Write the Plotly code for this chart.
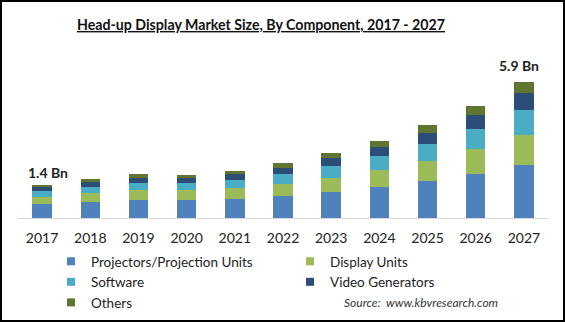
import plotly.graph_objects as go

years = ["2017", "2018", "2019", "2020", "2021", "2022", "2023", "2024", "2025", "2026", "2027"]
projectors = [0.62, 0.71, 0.78, 0.78, 0.84, 0.97, 1.14, 1.36, 1.59, 1.90, 2.30]
display_units = [0.29, 0.39, 0.43, 0.43, 0.48, 0.52, 0.61, 0.74, 0.87, 1.08, 1.31]
software = [0.26, 0.26, 0.32, 0.33, 0.35, 0.43, 0.52, 0.61, 0.74, 0.87, 1.07]
video_generators = [0.19, 0.22, 0.20, 0.20, 0.25, 0.26, 0.35, 0.38, 0.48, 0.61, 0.75]
others = [0.07, 0.12, 0.17, 0.12, 0.14, 0.19, 0.22, 0.27, 0.35, 0.39, 0.46]
series_names = ["Projectors/Projection Units", "Display Units", "Software", "Video Generators", "Others"]
label_2017 = "1.4 Bn"
label_2027 = "5.9 Bn"

series = [projectors, display_units, software, video_generators, others]
colors = ["#4f81bd", "#9bbb59", "#4bacc6", "#2c4d75", "#5f7530"]

W, H = 565, 322
ML, MR, MT, MB = 18, 17, 40, 104
PW, PH = W - ML - MR, H - MT - MB
PX_PER_BN = 23.05

FONT = "Lato"

fig = go.Figure()
for name, vals, col in zip(series_names, series, colors):
    fig.add_trace(go.Bar(x=years, y=vals, name=name, marker=dict(color=col, line=dict(width=0)),
                         showlegend=False))
for name, col in zip(series_names, colors):
    fig.add_trace(go.Scatter(x=[years[0]], y=[None], mode="markers", name=name,
                             marker=dict(symbol="square", size=8, color=col), hoverinfo="skip"))

totals = [sum(v) for v in zip(*series)]

def px_x(px):
    return (px - ML) / PW

def px_y(py):
    return (H - MB - py) / PH

annotations = [
    dict(x=0, y=totals[0], xref="x", yref="y", text="<b>%s</b>" % label_2017, showarrow=False,
         yshift=13, xshift=6, yanchor="middle", font=dict(family=FONT, size=14, color="#222222")),
    dict(x=len(years) - 1, y=totals[-1], xref="x", yref="y", text="<b>%s</b>" % label_2027, showarrow=False,
         yshift=17, xshift=-5, yanchor="middle", font=dict(family=FONT, size=14, color="#222222")),
    dict(x=px_x(500), y=px_y(302), xref="paper", yref="paper", text="<i>Source:  www.kbvresearch.com</i>",
         showarrow=False, xanchor="right", yanchor="middle", font=dict(family=FONT, size=12, color="#333333")),
]

fig.update_layout(
    width=W, height=H,
    margin=dict(l=ML, r=MR, t=MT, b=MB, autoexpand=False),
    paper_bgcolor="white", plot_bgcolor="white",
    barmode="stack", bargap=0.595,
    title=dict(text="<b>Head-up Display Market Size, By Component, 2017 - 2027</b>",
               x=261 / W, y=1 - 25 / H, xref="container", yref="container",
               xanchor="center", yanchor="middle",
               font=dict(family=FONT, size=14.2, color="#111111", lineposition="under")),
    xaxis=dict(type="category", range=[-0.5, len(years) - 0.5], showgrid=False, showline=True,
               linecolor="#d9d9d9", linewidth=1, automargin=False,
               ticks="outside", ticklen=7, tickcolor="rgba(0,0,0,0)",
               tickfont=dict(family=FONT, size=14, color="#222222"), zeroline=False,
               fixedrange=True),
    yaxis=dict(range=[0, PH / PX_PER_BN], visible=False, showgrid=False, fixedrange=True),
    showlegend=True,
    legend=dict(orientation="h", xref="container", yref="container", x=51 / W, y=1 - 246 / H,
                xanchor="left", yanchor="top", entrywidth=194, entrywidthmode="pixels",
                traceorder="normal", tracegroupgap=0, itemsizing="trace",
                font=dict(family=FONT, size=13.5, color="#222222"),
                bgcolor="rgba(0,0,0,0)"),
    annotations=annotations,
    shapes=[dict(type="rect", xref="paper", yref="paper",
                 x0=px_x(1), x1=px_x(W - 1), y0=px_y(H - 1), y1=px_y(1),
                 line=dict(color="#000000", width=2), fillcolor="rgba(0,0,0,0)", layer="above")],
)

fig.write_html("out.html")
